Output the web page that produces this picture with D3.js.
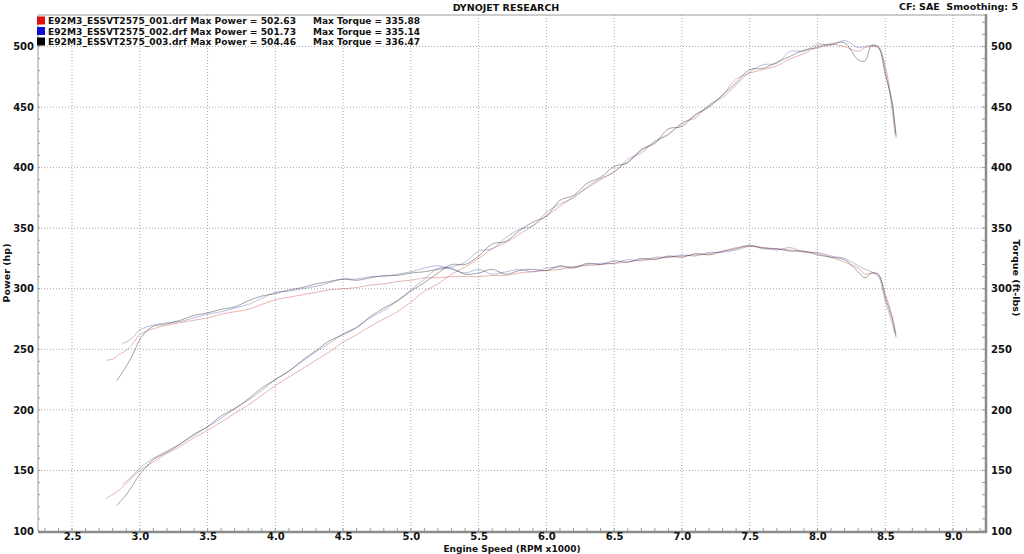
<!DOCTYPE html>
<html><head><meta charset="utf-8">
<script src="https://cdn.jsdelivr.net/npm/d3@7"></script>
<style>
html,body{margin:0;padding:0;background:#fff;}
svg{display:block;font-family:"DejaVu Sans",Verdana,sans-serif;font-weight:bold;}
</style></head>
<body><svg id="c" width="1024" height="554"></svg>
<script>
// ---- data ----
const xTicks = [2.5,3.0,3.5,4.0,4.5,5.0,5.5,6.0,6.5,7.0,7.5,8.0,8.5,9.0];
const yTicks = [100,150,200,250,300,350,400,450,500];
const runNames = ["E92M3_ESSVT2575_001.drf","E92M3_ESSVT2575_002.drf","E92M3_ESSVT2575_003.drf"];
const maxPower = ["502.63","501.73","504.46"];
const maxTorque = ["335.88","335.14","336.47"];
const runColors = ["#e01010","#1010d0","#000000"];

const rpm1 = [2.75,2.8,2.85,2.9,2.95,3.0,3.1,3.2,3.3,3.4,3.5,3.6,3.7,3.8,3.9,4.0,4.1,4.2,4.3,4.4,4.5,4.6,4.7,4.8,4.9,5.0,5.1,5.2,5.3,5.4,5.5,5.6,5.7,5.8,5.9,6.0,6.1,6.2,6.3,6.4,6.5,6.6,6.7,6.8,6.9,7.0,7.1,7.2,7.3,7.4,7.5,7.6,7.7,7.8,7.9,8.0,8.1,8.2,8.3,8.35,8.4,8.45,8.5,8.55,8.58];
const torque1 = [241,242,246,249,255,262,267,270,272,274,276,279,281,283,287,291,293,295,297,299,300,301,303,304,306,307,309,309,310,310,310,311,311,313,314,315,316,318,319,320,321,322,324,325,326,327,328,329,331,334,335,334,333,332,331,329,326,322,317,312,313,311,296,278,262];
const power1 = [127,130,134,139,145,150,157,164,170,177,183,190,197,204,212,220,227,234,241,248,256,262,269,275,281,289,298,304,312,318,325,333,338,345,352,360,368,376,383,390,397,405,414,421,428,436,443,451,460,473,478,481,484,490,494,500,502,500,496,499,500,499,484,452,427];

const rpm2 = [2.87,2.9,2.95,3.0,3.1,3.2,3.3,3.4,3.5,3.6,3.7,3.8,3.9,4.0,4.1,4.2,4.3,4.4,4.5,4.6,4.7,4.8,4.9,5.0,5.1,5.2,5.3,5.4,5.5,5.6,5.7,5.8,5.9,6.0,6.1,6.2,6.3,6.4,6.5,6.6,6.7,6.8,6.9,7.0,7.1,7.2,7.3,7.4,7.5,7.6,7.7,7.8,7.9,8.0,8.1,8.2,8.3,8.35,8.4,8.45,8.5,8.55,8.57];
const torque2 = [255,256,260,266,270,272,273,276,279,281,284,287,292,297,298,300,302,305,308,308,310,310,312,314,317,319,316,313,316,312,314,316,314,317,318,318,320,321,321,324,323,326,326,328,327,330,330,332,335,334,332,334,330,330,327,325,319,316,314,310,290,272,263];
const power2 = [138,141,146,152,160,166,172,179,186,193,201,208,216,225,232,240,248,255,263,268,276,282,290,299,308,317,318,322,331,333,342,349,352,363,370,375,384,391,396,407,412,422,427,437,441,452,458,468,479,485,486,496,496,502,501,505,499,500,501,500,480,450,428];

const rpm3 = [2.83,2.9,2.95,3.0,3.05,3.1,3.2,3.3,3.4,3.5,3.6,3.7,3.8,3.9,4.0,4.1,4.2,4.3,4.4,4.5,4.6,4.7,4.8,4.9,5.0,5.1,5.2,5.3,5.4,5.5,5.6,5.7,5.8,5.9,6.0,6.1,6.2,6.3,6.4,6.5,6.6,6.7,6.8,6.9,7.0,7.1,7.2,7.3,7.4,7.5,7.6,7.7,7.8,7.9,8.0,8.1,8.2,8.3,8.35,8.4,8.45,8.5,8.55,8.58];
const torque3 = [224,236,246,258,265,269,271,274,278,280,283,285,290,294,296,299,301,304,306,308,307,309,311,311,313,314,316,317,312,313,316,312,315,316,315,319,317,321,320,323,322,325,324,327,326,329,328,331,333,336,333,333,331,331,328,326,324,314,309,313,312,293,276,260];
const power3 = [121,130,138,147,153,159,165,172,180,186,195,201,209,218,225,232,241,249,257,262,268,277,284,290,298,305,313,320,320,327,337,339,348,355,360,373,377,387,392,401,404,415,420,432,434,444,450,460,470,481,482,487,492,497,499,502,503,489,488,501,499,477,455,425];

const runs = [
  {rpm:rpm1, torque:torque1, power:power1},
  {rpm:rpm2, torque:torque2, power:power2},
  {rpm:rpm3, torque:torque3, power:power3}
];
const lineColors = ["rgba(200,70,70,0.45)","rgba(70,70,170,0.4)","rgba(30,30,30,0.45)"];

// ---- layout ----
const svg = d3.select("#c");
const L=38, R=985, T=15, B=531;
const x = d3.scaleLinear().domain([2.249,9.236]).range([L,R]);
const y = d3.scaleLinear().domain([100,526]).range([B,T]);

// grid
const g = svg.append("g");
g.selectAll(".vg").data(xTicks).enter().append("line")
  .attr("x1",d=>x(d)).attr("x2",d=>x(d)).attr("y1",T).attr("y2",B)
  .attr("stroke","#a8a8a8").attr("stroke-width",1).attr("stroke-dasharray","1,2");
g.selectAll(".hg").data(yTicks.slice(1)).enter().append("line")
  .attr("x1",L).attr("x2",R).attr("y1",d=>y(d)).attr("y2",d=>y(d))
  .attr("stroke","#a8a8a8").attr("stroke-width",1).attr("stroke-dasharray","1,2");

// frame
svg.append("line").attr("x1",L).attr("x2",R).attr("y1",T).attr("y2",T).attr("stroke","#9a9a9a").attr("stroke-width",1);
svg.append("line").attr("x1",L).attr("x2",L).attr("y1",T).attr("y2",B).attr("stroke","#9a9a9a").attr("stroke-width",1);

// minor ticks
const minorY = d3.range(100,526,10);
svg.selectAll(".my").data(minorY).enter().append("line")
  .attr("x1",L).attr("x2",L+2).attr("y1",d=>y(d)).attr("y2",d=>y(d)).attr("stroke","#999");
svg.selectAll(".myr").data(minorY).enter().append("line")
  .attr("x1",R-3).attr("x2",R).attr("y1",d=>y(d)).attr("y2",d=>y(d)).attr("stroke","#999");
const minorX = d3.range(23,93).map(i=>i/10);
svg.selectAll(".mx").data(minorX).enter().append("line")
  .attr("x1",d=>x(d)).attr("x2",d=>x(d)).attr("y1",B-3).attr("y2",B).attr("stroke","#999");

// curves
const line = d3.line().curve(d3.curveCatmullRom.alpha(0.5));
runs.forEach((r,i)=>{
  ["torque","power"].forEach(k=>{
    svg.append("path")
      .attr("d", line(r.rpm.map((v,j)=>[x(v), y(r[k][j])])))
      .attr("fill","none").attr("stroke",lineColors[i]).attr("stroke-width",0.9);
  });
});

// bottom & right axis lines (thick)
svg.append("line").attr("x1",L).attr("x2",R+1).attr("y1",B+1).attr("y2",B+1).attr("stroke","#8c8c8c").attr("stroke-width",2.5);
svg.append("line").attr("x1",R+1).attr("x2",R+1).attr("y1",T-1).attr("y2",B+2).attr("stroke","#8c8c8c").attr("stroke-width",2.5);

// tick labels via axes
const fs = 10;
const ax = svg.append("g").attr("transform",`translate(0,${B})`)
  .call(d3.axisBottom(x).tickValues(xTicks).tickFormat(d3.format(".1f")).tickSize(0).tickPadding(2));
const ayl = svg.append("g").attr("transform",`translate(${L},0)`)
  .call(d3.axisLeft(y).tickValues(yTicks).tickSize(0).tickPadding(4));
const ayr = svg.append("g").attr("transform",`translate(${R+2},0)`)
  .call(d3.axisRight(y).tickValues(yTicks).tickSize(0).tickPadding(4));
[ax,ayl,ayr].forEach(a=>{
  a.select(".domain").remove();
  a.selectAll("text").attr("font-family","DejaVu Sans, Verdana, sans-serif").attr("font-weight","bold")
   .attr("font-size",fs).attr("fill","#111");
});

// titles
function txt(s,xx,yy,opt={}){
  const t = svg.append("text").attr("x",xx).attr("y",yy).text(s)
    .attr("font-size",opt.fs||fs).attr("fill","#111")
    .attr("text-anchor",opt.anchor||"start");
  if(opt.rot) t.attr("transform",`rotate(${opt.rot},${xx},${yy})`);
  if(opt.len) t.attr("textLength",opt.len).attr("lengthAdjust","spacingAndGlyphs");
  return t;
}
txt("DYNOJET RESEARCH",506,11,{anchor:"middle",fs:9.5});
txt("CF: SAE  Smoothing: 5",1018,10,{anchor:"end",fs:9.5}).attr("xml:space","preserve").style("white-space","pre");
txt("Engine Speed (RPM x1000)",512,552,{anchor:"middle",fs:9});
txt("Power (hp)",10,273,{anchor:"middle",fs:9.5,rot:-90});
txt("Torque (ft-lbs)",1013,278,{anchor:"middle",fs:9.5,rot:90});

// legend
const legY = [20.5,31,41.5];
runNames.forEach((n,i)=>{
  svg.append("rect").attr("x",37).attr("y",legY[i]-4).attr("width",8).attr("height",8).attr("fill",runColors[i]);
  txt(`${n} Max Power = ${maxPower[i]}`,48,legY[i]+3.5,{fs:9.5,len:248});
  txt(`Max Torque = ${maxTorque[i]}`,313,legY[i]+3.5,{fs:9.5,len:107});
});
</script></body></html>
